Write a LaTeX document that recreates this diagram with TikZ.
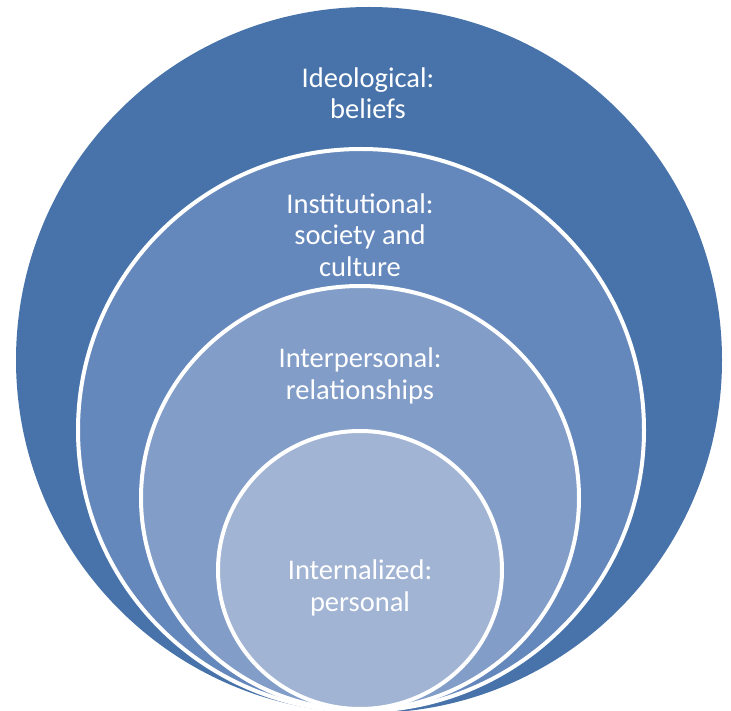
\documentclass[tikz,border=0pt]{standalone}
\usepackage{fontspec}
\setmainfont{Carlito}
\definecolor{c1}{HTML}{4773AA}
\definecolor{c2}{HTML}{6588BC}
\definecolor{c3}{HTML}{819DC8}
\definecolor{c4}{HTML}{A2B4D4}
\tikzset{
  ring/.style={draw=white, line width=4pt},
  lbl/.style={text=white, align=center, inner sep=0pt, font=\fontsize{28.5}{31.5}\selectfont}
}
\begin{document}
\begin{tikzpicture}[x=1pt,y=-1pt]
\useasboundingbox (0,0) rectangle (731,711);
\clip (0,0) rectangle (731,711);
\fill[c1] (369,360) ellipse [x radius=353, y radius=353];
\filldraw[c2, ring] (361,430) ellipse [x radius=283, y radius=281];
\filldraw[c3, ring] (360,498) ellipse [x radius=219, y radius=212];
\filldraw[c4, ring] (360,570) ellipse [x radius=142, y radius=139];
\node[lbl] (ideo) at (368,93) {Ideological:\\beliefs};
\node[lbl] (inst) at (360,235) {Institutional:\\society and\\culture};
\node[lbl] (inter) at (360,376) {Interpersonal:\\relationships};
\node[lbl] (intern) at (360,588) {Internalized:\\personal};
\end{tikzpicture}
\end{document}
